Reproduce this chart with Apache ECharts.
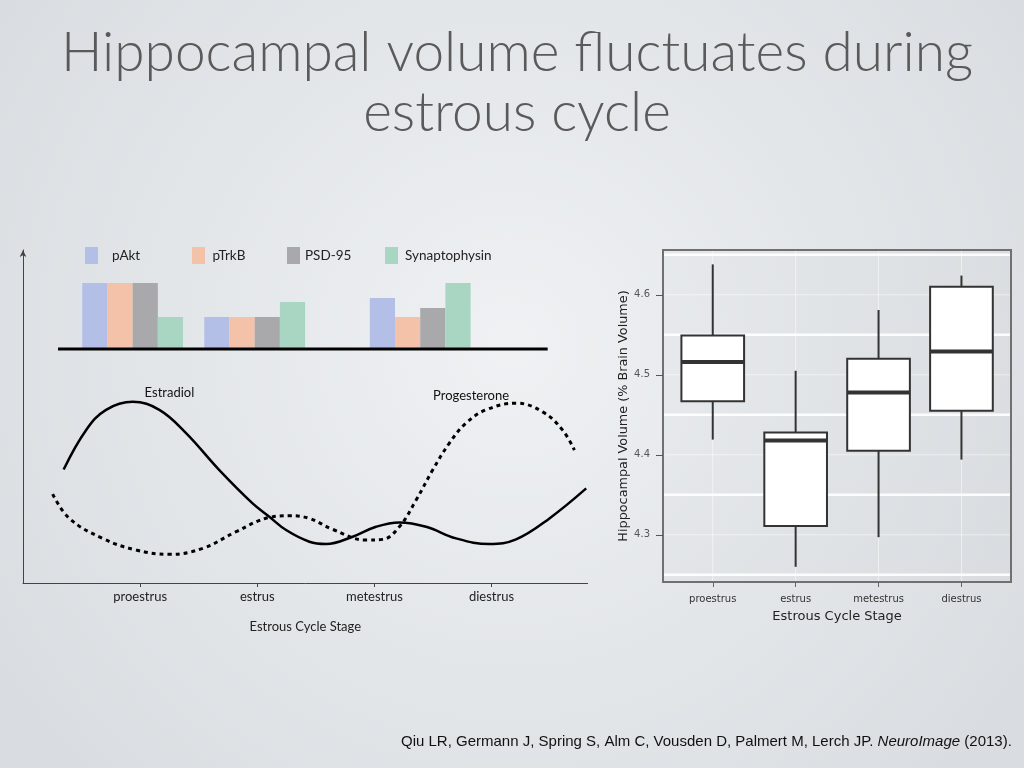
<!DOCTYPE html>
<html><head><meta charset="utf-8">
<script src="https://cdn.jsdelivr.net/npm/echarts@6/dist/echarts.min.js"></script>
<style>html,body{margin:0;padding:0;width:1024px;height:768px;overflow:hidden;background:#e6e8eb}#c{width:1024px;height:768px}</style>
</head><body><div id="c"></div>
<script>
// ---------- data ----------
const stages = ['proestrus', 'estrus', 'metestrus', 'diestrus'];

// left schematic: protein bars (relative level), positioned along the stage axis
const barPositions = [0.936, 1.978, 3.391];
const pAkt = [66, 32, 51];
const pTrkB = [66, 32, 32];
const psd95 = [66, 32, 41];
const synaptophysin = [32, 47, 66];
const barBaseline = [0.299, 4.479];   // extent of the black baseline under the bars

// left schematic: hormone curves (stage position, relative level)
const estradiolX = [0.347, 0.538, 0.709, 0.936, 1.164, 1.392, 1.676, 1.960, 2.103, 2.246, 2.445, 2.587, 2.814, 3.014, 3.213, 3.441, 3.697, 3.981, 4.209, 4.494, 4.808];
const estradiolY = [34.1, 45.9, 52.0, 54.4, 52.0, 45.0, 33.9, 23.9, 19.9, 15.9, 12.4, 11.7, 13.9, 16.9, 18.2, 16.9, 13.4, 11.7, 13.1, 19.4, 28.4];
const progesteroneX = [0.253, 0.396, 0.680, 0.965, 1.249, 1.534, 1.819, 2.103, 2.274, 2.445, 2.644, 2.929, 3.070, 3.213, 3.356, 3.497, 3.640, 3.782, 3.953, 4.209, 4.436, 4.607, 4.707];
const progesteroneY = [26.7, 19.4, 13.4, 9.9, 8.6, 10.4, 15.4, 19.7, 20.2, 19.4, 16.1, 12.9, 13.1, 16.9, 24.9, 33.9, 42.0, 48.0, 52.0, 54.0, 51.4, 45.9, 39.9];

// right: hippocampal volume boxplots (% brain volume)
const boxMin    = [4.419, 4.260, 4.297, 4.394];
const boxQ1     = [4.467, 4.311, 4.405, 4.455];
const boxMedian = [4.516, 4.418, 4.478, 4.529];
const boxQ3     = [4.549, 4.428, 4.520, 4.610];
const boxMax    = [4.638, 4.505, 4.581, 4.624];
const volTicks = [4.3, 4.4, 4.5, 4.6];
const volMinorLines = [4.25, 4.35, 4.45, 4.55, 4.65];

// ---------- chart ----------
const chart = echarts.init(document.getElementById('c'), null, {renderer: 'canvas'});
const gill = 'Lato, "Open Sans", sans-serif';
const barColors = ['#b3bfe6', '#f3c2a8', '#a9a9ac', '#a8d6c3'];
const barNames = ['pAkt', 'pTrkB', 'PSD-95', 'Synaptophysin'];
const barSets = [pAkt, pTrkB, psd95, synaptophysin];
const legendLeft = [85, 192, 287, 385];
const legendTextPad = [9, 2.5, 0, 2];

const option = {
  animation: false,
  backgroundColor: {type: 'radial', x: 0.5, y: 0.45, r: 0.8,
    colorStops: [{offset: 0, color: '#eff1f3'}, {offset: 1, color: '#d9dde1'}]},
  title: [
    {text: 'Hippocampal volume fluctuates during\nestrous cycle', left: '50%', top: 18,
     textAlign: 'center',
     textStyle: {fontFamily: gill, fontWeight: 300, fontSize: 55, lineHeight: 60, color: '#5a5a5a', align: 'center'}},
    {text: 'Qiu LR, Germann J, Spring S, Alm C, Vousden D, Palmert M, Lerch JP. {i|NeuroImage} (2013).',
     left: 396, top: 729,
     textStyle: {fontFamily: '"Liberation Sans", Arial, sans-serif', fontWeight: 'normal', fontSize: 15, color: '#111',
       rich: {i: {fontStyle: 'italic', fontFamily: '"Liberation Sans", Arial, sans-serif', fontSize: 15, color: '#111'}}}}
  ],
  legend: barNames.map((n, i) => ({
    data: [n], left: legendLeft[i], top: 247, padding: 0,
    icon: 'rect', itemWidth: 13, itemHeight: 17,
    textStyle: {fontFamily: gill, fontSize: 13.5, color: '#222', padding: [0, 0, 0, legendTextPad[i]]},
    selectedMode: false
  })),
  grid: [
    {left: 23, top: 250, width: 564.6, height: 333},          // hormone curves
    {left: 23, top: 249, width: 564.6, height: 100},          // protein bars
    {left: 663, top: 250, width: 348, height: 332, show: true, borderColor: '#707070', borderWidth: 2,
     backgroundColor: 'rgba(0,0,0,0.012)'},                  // box frame
    {left: 671.3, top: 250, width: 331.6, height: 332}        // box categories
  ],
  xAxis: [
    {gridIndex: 0, type: 'value', min: 0, max: 4.82,
     axisLine: {show: true, lineStyle: {color: '#444', width: 1}},
     axisTick: {show: true, customValues: [1, 2, 3, 4], length: 4, lineStyle: {color: '#444'}},
     axisLabel: {customValues: [1, 2, 3, 4], formatter: v => stages[Math.round(v) - 1],
       fontFamily: gill, fontSize: 13, color: '#222', margin: 7},
     splitLine: {show: false},
     name: 'Estrous Cycle Stage', nameLocation: 'middle', nameGap: 37,
     nameTextStyle: {fontFamily: gill, fontSize: 13, color: '#222'}},
    {gridIndex: 1, type: 'value', min: 0, max: 4.82, show: false},
    {gridIndex: 2, type: 'value', min: 0, max: 1, show: false},
    {gridIndex: 3, type: 'category', data: stages,
     axisLine: {show: false},
     axisTick: {show: true, alignWithLabel: true, length: 5, lineStyle: {color: '#666'}},
     axisLabel: {fontFamily: '"DejaVu Sans", sans-serif', fontSize: 10, color: '#333', margin: 12},
     name: 'Estrous Cycle Stage', nameLocation: 'middle', nameGap: 28,
     nameTextStyle: {fontFamily: '"DejaVu Sans", sans-serif', fontSize: 13, color: '#222'}}
  ],
  yAxis: [
    {gridIndex: 0, type: 'value', min: 0, max: 100,
     axisLine: {show: true, symbol: ['none', 'arrow'], symbolSize: [5, 7], lineStyle: {color: '#444', width: 1}},
     axisTick: {show: false}, axisLabel: {show: false}, splitLine: {show: false}},
    {gridIndex: 1, type: 'value', min: 0, max: 100, show: false},
    {gridIndex: 2, type: 'value', min: 4.241, max: 4.656,
     axisLine: {show: false},
     axisTick: {show: true, customValues: volTicks, length: 7, lineStyle: {color: '#555'}},
     axisLabel: {customValues: volTicks, formatter: v => v.toFixed(1),
       fontFamily: '"DejaVu Sans", sans-serif', fontSize: 10, color: '#555', margin: 13},
     splitLine: {show: false},
     name: 'Hippocampal Volume (% Brain Volume)', nameLocation: 'middle', nameGap: 32, nameRotate: 90,
     nameTextStyle: {fontFamily: '"DejaVu Sans", sans-serif', fontSize: 12.8, color: '#222'}},
    {gridIndex: 3, type: 'value', min: 4.241, max: 4.656, show: false}
  ],
  series: [
    // protein bars
    ...barNames.map((n, k) => ({
      name: n, type: 'bar', xAxisIndex: 1, yAxisIndex: 1,
      data: barPositions.map((x, i) => [x, barSets[k][i]]),
      barWidth: 25.2, barGap: '0%',
      itemStyle: {color: barColors[k]}
    })),
    // black baseline under bars
    {type: 'custom', xAxisIndex: 1, yAxisIndex: 1, z: 4, silent: true,
     data: [[barBaseline[0], barBaseline[1]]],
     encode: {x: [0, 1]},
     renderItem: (params, api) => {
       const a = api.coord([api.value(0), 0]), b = api.coord([api.value(1), 0]);
       return {type: 'line', shape: {x1: a[0], y1: a[1], x2: b[0], y2: b[1]}, style: {stroke: '#000', lineWidth: 3}};
     }},
    // hormone curves
    {name: 'Estradiol', type: 'line', xAxisIndex: 0, yAxisIndex: 0, smooth: 0.4, symbol: 'none',
     data: estradiolX.map((x, i) => [x, estradiolY[i]]),
     lineStyle: {color: '#000', width: 2.5},
     markPoint: {symbolSize: 0, silent: true, data: [{coord: [1.25, 57.2], name: 'Estradiol'}],
       label: {show: true, formatter: 'Estradiol', fontFamily: gill, fontSize: 13, color: '#111'}}},
    {name: 'Progesterone', type: 'line', xAxisIndex: 0, yAxisIndex: 0, smooth: 0.4, symbol: 'none',
     data: progesteroneX.map((x, i) => [x, progesteroneY[i]]),
     lineStyle: {color: '#000', width: 3, type: [4, 4]},
     markPoint: {symbolSize: 0, silent: true, data: [{coord: [3.825, 56.2], name: 'Progesterone'}],
       label: {show: true, formatter: 'Progesterone', fontFamily: gill, fontSize: 13, color: '#111'}}},
    // box panel horizontal grid lines
    {type: 'custom', xAxisIndex: 2, yAxisIndex: 2, z: 1, silent: true,
     data: volMinorLines.map(v => [0, v, 1]).concat(volTicks.map(v => [0, v, 0])),
     encode: {x: 0, y: 1},
     renderItem: (params, api) => {
       const cs = params.coordSys; const p = api.coord([0, api.value(1)]);
       const minor = api.value(2) === 1;
       return {type: 'line', shape: {x1: cs.x + 1, y1: p[1], x2: cs.x + cs.width - 1, y2: p[1]},
         style: {stroke: minor ? 'rgba(255,255,255,0.9)' : 'rgba(255,255,255,0.5)', lineWidth: minor ? 2.5 : 1}};
     }},
    // box panel vertical grid lines
    {type: 'custom', xAxisIndex: 3, yAxisIndex: 3, z: 1, silent: true,
     data: stages.map((s, i) => [i]),
     encode: {x: 0},
     renderItem: (params, api) => {
       const cs = params.coordSys; const p = api.coord([api.value(0), 4.4]);
       return {type: 'line', shape: {x1: p[0], y1: cs.y + 1, x2: p[0], y2: cs.y + cs.height - 1},
         style: {stroke: 'rgba(255,255,255,0.5)', lineWidth: 1}};
     }},
    // boxplots
    {type: 'custom', xAxisIndex: 3, yAxisIndex: 3, z: 3, silent: true,
     data: stages.map((s, i) => [i, boxMin[i], boxQ1[i], boxMedian[i], boxQ3[i], boxMax[i]]),
     encode: {x: 0, y: [1, 2, 3, 4, 5]},
     renderItem: (params, api) => {
       const i = api.value(0);
       const lo = api.coord([i, api.value(1)]), q1 = api.coord([i, api.value(2)]),
             md = api.coord([i, api.value(3)]), q3 = api.coord([i, api.value(4)]),
             hi = api.coord([i, api.value(5)]);
       const bw = api.size([1, 0])[0] * 0.756;
       const x = lo[0], c = '#333';
       return {type: 'group', children: [
         {type: 'line', shape: {x1: x, y1: hi[1], x2: x, y2: q3[1]}, style: {stroke: c, lineWidth: 2}},
         {type: 'line', shape: {x1: x, y1: q1[1], x2: x, y2: lo[1]}, style: {stroke: c, lineWidth: 2}},
         {type: 'rect', shape: {x: x - bw / 2, y: q3[1], width: bw, height: q1[1] - q3[1]},
          style: {fill: '#fff', stroke: c, lineWidth: 2}},
         {type: 'line', shape: {x1: x - bw / 2, y1: md[1], x2: x + bw / 2, y2: md[1]}, style: {stroke: c, lineWidth: 4}}
       ]};
     }}
  ]
};
chart.setOption(option);
</script></body></html>
